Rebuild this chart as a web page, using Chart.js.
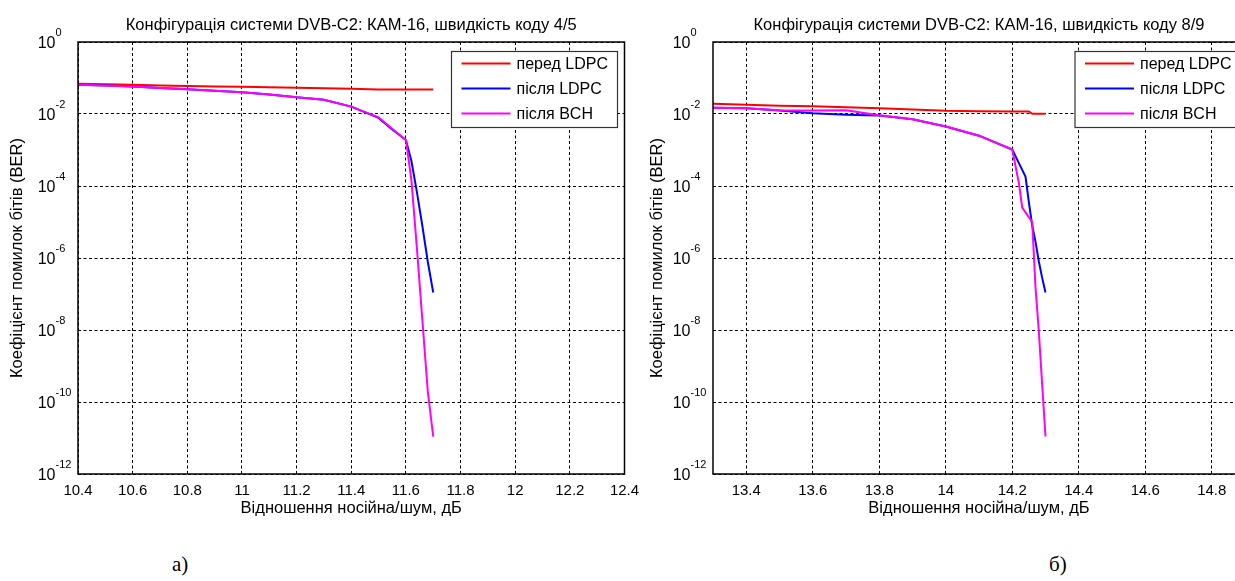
<!DOCTYPE html>
<html>
<head>
<meta charset="utf-8">
<script src="https://cdn.jsdelivr.net/npm/chart.js@4.4.1/dist/chart.umd.min.js"></script>
<style>
  html, body { margin: 0; padding: 0; background: #fff; }
  body { width: 1235px; height: 581px; overflow: hidden; position: relative; }
  .box { position: absolute; top: 0; height: 530px; }
  .cap { position: absolute; top: 552px; font: 21px "Liberation Serif", "Times New Roman", serif; color: #000; }
</style>
</head>
<body>
<div class="box" style="left:0;width:640px"><canvas id="chart-a"></canvas></div>
<div class="box" style="left:640px;width:620px"><canvas id="chart-b"></canvas></div>
<div class="cap" style="left:172px">а)</div>
<div class="cap" style="left:1049px">б)</div>
<script>
// --- data ---
const seriesNames = ['перед LDPC', 'після LDPC', 'після BCH'];
const seriesColors = ['#ff0000', '#0000ff', '#ff00ff'];

const yTicks = [1, 1e-2, 1e-4, 1e-6, 1e-8, 1e-10, 1e-12];
const yTickBase = '10';
const yTickExponents = ['0', '-2', '-4', '-6', '-8', '-10', '-12'];

// а) code rate 4/5
const aTicks = [10.4, 10.6, 10.8, 11, 11.2, 11.4, 11.6, 11.8, 12, 12.2, 12.4];
const aTickLabels = ['10.4', '10.6', '10.8', '11', '11.2', '11.4', '11.6', '11.8', '12', '12.2', '12.4'];
const aRedSnr = [10.4, 10.5, 10.6, 10.7, 10.8, 10.9, 11.0, 11.1, 11.2, 11.3, 11.4, 11.5, 11.6, 11.7];
const aRedBer = [0.069, 0.067, 0.065, 0.062, 0.060, 0.058, 0.057, 0.055, 0.054, 0.052, 0.050, 0.048, 0.048, 0.048];
const aBlueSnr = [10.4, 10.5, 10.6, 10.7, 10.8, 10.9, 11.0, 11.1, 11.2, 11.3, 11.4, 11.5, 11.55, 11.6, 11.62, 11.64, 11.66, 11.68, 11.7];
const aBlueBer = [0.065, 0.062, 0.058, 0.053, 0.049, 0.044, 0.040, 0.035, 0.029, 0.025, 0.016, 0.0078, 0.0037, 0.0019, 5e-4, 7e-5, 8e-6, 8e-7, 1.1e-7];
const aMagSnr = [10.4, 10.5, 10.6, 10.7, 10.8, 10.9, 11.0, 11.1, 11.2, 11.3, 11.4, 11.5, 11.55, 11.6, 11.62, 11.64, 11.66, 11.68, 11.7];
const aMagBer = [0.065, 0.062, 0.058, 0.053, 0.049, 0.044, 0.040, 0.035, 0.029, 0.025, 0.016, 0.0081, 0.0039, 0.0019, 1.5e-4, 2e-6, 2e-8, 2e-10, 1.1e-11];

// б) code rate 8/9
const bTicks = [13.4, 13.6, 13.8, 14, 14.2, 14.4, 14.6, 14.8];
const bTickLabels = ['13.4', '13.6', '13.8', '14', '14.2', '14.4', '14.6', '14.8'];
const bRedSnr = [13.3, 13.4, 13.5, 13.6, 13.7, 13.8, 13.9, 14.0, 14.1, 14.2, 14.25, 14.26, 14.3];
const bRedBer = [0.0194, 0.018, 0.017, 0.0165, 0.0155, 0.0145, 0.0133, 0.0123, 0.012, 0.0118, 0.0117, 0.0101, 0.0101];
const bBlueSnr = [13.3, 13.4, 13.5, 13.6, 13.7, 13.76, 13.8, 13.9, 14.0, 14.1, 14.2, 14.23, 14.24, 14.25, 14.26, 14.27, 14.28, 14.29, 14.3];
const bBlueBer = [0.0148, 0.0145, 0.0126, 0.0105, 0.0096, 0.0093, 0.0091, 0.0071, 0.0045, 0.0025, 0.00103, 2.8e-4, 1.8e-4, 3.5e-5, 8e-6, 2.8e-6, 8e-7, 2.8e-7, 1.1e-7];
const bMagSnr = [13.3, 13.4, 13.5, 13.6, 13.7, 13.8, 13.9, 14.0, 14.1, 14.2, 14.22, 14.23, 14.26, 14.27, 14.28, 14.29, 14.3];
const bMagBer = [0.0148, 0.0145, 0.0128, 0.0125, 0.0128, 0.0093, 0.0071, 0.0045, 0.0025, 0.00103, 1.2e-4, 2.5e-5, 1e-5, 1.5e-7, 9e-9, 3e-10, 1.1e-11];

const FONT = '"Liberation Sans", Arial, sans-serif';

function points(xs, ys) {
    return xs.map((x, i) => ({ x: x, y: ys[i] }));
}

// title, frame, power-of-ten labels and legend drawn around the chart area
const framePlugin = {
    id: 'frame',
    afterDraw(chart, args, opts) {
        const { ctx, chartArea: a } = chart;
        const yScale = chart.scales.y;
        ctx.save();
        ctx.fillStyle = '#000';
        ctx.font = '16.5px ' + FONT;
        ctx.textAlign = 'center';
        ctx.textBaseline = 'alphabetic';
        ctx.fillText(opts.title, (a.left + a.right) / 2, a.top - 12);

        // y tick labels as 10 with a raised exponent
        yTicks.forEach((v, i) => {
            const py = yScale.getPixelForValue(v);
            const bx = a.left - 22.5;
            ctx.font = '16px ' + FONT;
            ctx.textAlign = 'right';
            ctx.fillText(yTickBase, bx, py + 6);
            ctx.font = '11px ' + FONT;
            ctx.textAlign = 'left';
            ctx.fillText(yTickExponents[i], bx, py - 6);
        });

        ctx.strokeStyle = '#000';
        ctx.lineWidth = 1.5;
        ctx.strokeRect(a.left, a.top, a.right - a.left, a.bottom - a.top);

        // legend box
        const lx = a.left + opts.legendX, ly = a.top + 9.5;
        ctx.fillStyle = '#fff';
        ctx.fillRect(lx, ly, 166, 76);
        ctx.lineWidth = 1.2;
        ctx.strokeStyle = '#333';
        ctx.strokeRect(lx, ly, 166, 76);
        ctx.font = '16px ' + FONT;
        ctx.textAlign = 'left';
        ctx.textBaseline = 'middle';
        chart.data.datasets.forEach((ds, i) => {
            const yy = ly + 12 + i * 25;
            ctx.strokeStyle = ds.borderColor;
            ctx.lineWidth = 2;
            ctx.beginPath();
            ctx.moveTo(lx + 10, yy);
            ctx.lineTo(lx + 59, yy);
            ctx.stroke();
            ctx.fillStyle = '#000';
            ctx.fillText(ds.label, lx + 65, yy + 1);
        });
        ctx.restore();
    }
};

function makeChart(id, cfg) {
    const datasets = cfg.series.map((s, i) => ({
        label: seriesNames[i],
        data: points(s[0], s[1]),
        borderColor: seriesColors[i],
        backgroundColor: seriesColors[i],
        borderWidth: 2,
        pointRadius: 0,
        tension: 0,
        order: 2 - i
    }));
    new Chart(document.getElementById(id).getContext('2d'), {
        type: 'line',
        data: { datasets: datasets },
        plugins: [framePlugin],
        options: {
            responsive: true,
            maintainAspectRatio: false,
            animation: false,
            layout: { padding: { top: 42, right: cfg.padRight, bottom: 0, left: 0 } },
            plugins: {
                legend: { display: false },
                tooltip: { enabled: false },
                frame: { title: cfg.title, legendX: cfg.legendX }
            },
            scales: {
                x: {
                    type: 'linear',
                    min: cfg.xMin,
                    max: cfg.xMax,
                    afterBuildTicks: (scale) => { scale.ticks = cfg.ticks.map(v => ({ value: v })); },
                    afterFit: (scale) => { scale.height = 56; },
                    ticks: {
                        autoSkip: false,
                        maxRotation: 0,
                        padding: 0,
                        color: '#000',
                        font: { family: FONT, size: 15 },
                        callback: (v, i) => cfg.tickLabels[i]
                    },
                    grid: { color: '#000', lineWidth: 1, drawTicks: true, tickLength: 8, tickColor: 'rgba(0,0,0,0)' },
                    border: { display: false, dash: [3, 2.5] },
                    title: {
                        display: true,
                        text: 'Відношення носійна/шум, дБ',
                        color: '#000',
                        font: { family: FONT, size: 16.5 },
                        padding: { top: 0, bottom: 12 }
                    }
                },
                y: {
                    type: 'logarithmic',
                    min: 1e-12,
                    max: 1,
                    afterBuildTicks: (scale) => { scale.ticks = yTicks.map(v => ({ value: v })); },
                    afterFit: (scale) => { scale.width = cfg.yWidth; },
                    ticks: {
                        autoSkip: false,
                        callback: () => ''
                    },
                    grid: { color: '#000', lineWidth: 1, drawTicks: false },
                    border: { display: false, dash: [3, 2.5] },
                    title: {
                        display: true,
                        text: 'Коефіцієнт помилок бітів (BER)',
                        color: '#000',
                        font: { family: FONT, size: 16.5 },
                        padding: { top: 8, bottom: 0 }
                    }
                }
            }
        }
    });
}

makeChart('chart-a', {
    title: 'Конфігурація системи DVB-C2: КАМ-16, швидкість коду 4/5',
    xMin: 10.4, xMax: 12.4,
    ticks: aTicks, tickLabels: aTickLabels,
    series: [[aRedSnr, aRedBer], [aBlueSnr, aBlueBer], [aMagSnr, aMagBer]],
    yWidth: 78, padRight: 15.5, legendX: 373.5
});

makeChart('chart-b', {
    title: 'Конфігурація системи DVB-C2: КАМ-16, швидкість коду 8/9',
    xMin: 13.3, xMax: 14.9,
    ticks: bTicks, tickLabels: bTickLabels,
    series: [[bRedSnr, bRedBer], [bBlueSnr, bBlueBer], [bMagSnr, bMagBer]],
    yWidth: 73, padRight: 15, legendX: 362
});
</script>
</body>
</html>
